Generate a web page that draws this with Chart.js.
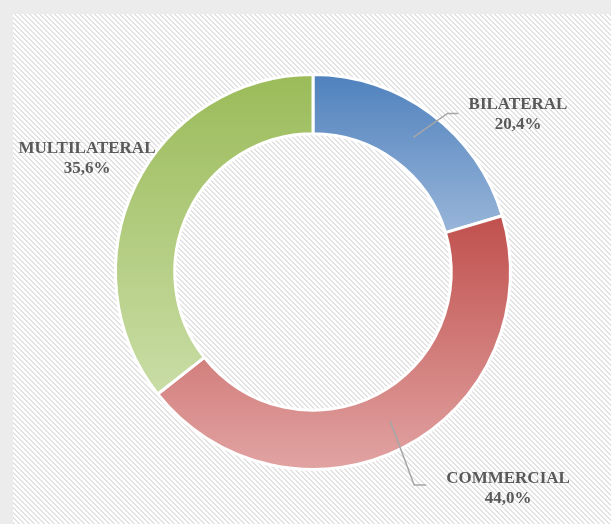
<!DOCTYPE html>
<html>
<head>
<meta charset="utf-8">
<script src="https://cdn.jsdelivr.net/npm/chart.js@4"></script>
<style>
  html, body { margin: 0; padding: 0; background: #ececec; }
  #wrap { width: 611px; height: 524px; position: relative; }
</style>
</head>
<body>
<div id="wrap"><canvas id="grafica" width="611" height="524"></canvas></div>
<script>
// datos de la grafica
var categorias = ["BILATERAL", "COMMERCIAL", "MULTILATERAL"];
var valores = [20.4, 44.0, 35.6];
var etiquetas = ["20,4%", "44,0%", "35,6%"];
var coloresArriba = ["#4f81bd", "#c0504d", "#9bbb59"];
var coloresAbajo = ["#98b5d9", "#e1a4a3", "#c9dda6"];

var corte = 0.70;

// fondo gris con rayado diagonal
function crearRayado(ctx) {
    var tile = document.createElement("canvas");
    tile.width = 5;
    tile.height = 5;
    var t = tile.getContext("2d");
    t.fillStyle = "#ffffff";
    t.fillRect(0, 0, 5, 5);
    t.fillStyle = "#e2e2e2";
    for (var y = 0; y < 5; y++) {
        t.fillRect(y % 5, y, 1, 1);
        t.fillRect((y + 1) % 5, y, 1, 1);
    }
    return ctx.createPattern(tile, "repeat");
}

var fondoPlugin = {
    id: "fondo",
    beforeDraw: function(chart) {
        var ctx = chart.ctx;
        ctx.save();
        ctx.fillStyle = "#ececec";
        ctx.fillRect(0, 0, chart.width, chart.height);
        ctx.fillStyle = crearRayado(ctx);
        ctx.fillRect(13, 14, chart.width - 13, chart.height - 14);
        ctx.restore();
    }
};

// gradiente vertical para cada porcion
function gradientePorcion(context) {
    var chart = context.chart;
    var area = chart.chartArea;
    if (!area) return coloresArriba[context.dataIndex];
    var cx = (area.left + area.right) / 2;
    var cy = (area.top + area.bottom) / 2;
    var R = Math.min(area.right - area.left, area.bottom - area.top) / 2;
    var r = R * corte;
    var total = valores.reduce(function(a, b) { return a + b; }, 0);
    var acum = 0;
    for (var i = 0; i < context.dataIndex; i++) acum += valores[i];
    var a0 = acum / total * Math.PI * 2;
    var a1 = (acum + valores[context.dataIndex]) / total * Math.PI * 2;
    var ymin = Infinity, ymax = -Infinity;
    for (var k = 0; k <= 60; k++) {
        var a = a0 + (a1 - a0) * k / 60;
        [R, r].forEach(function(rad) {
            var y = cy - rad * Math.cos(a);
            if (y < ymin) ymin = y;
            if (y > ymax) ymax = y;
        });
    }
    var g = chart.ctx.createLinearGradient(0, ymin, 0, ymax);
    g.addColorStop(0, coloresArriba[context.dataIndex]);
    g.addColorStop(1, coloresAbajo[context.dataIndex]);
    return g;
}

// etiquetas con lineas guia
var etiquetasPlugin = {
    id: "etiquetas",
    afterDraw: function(chart) {
        var ctx = chart.ctx;
        var meta = chart.getDatasetMeta(0);
        var textos = [
            { x: 518, y: 109, guia: [34, -24, 11] },
            { x: 508, y: 483, guia: [24, 64, 12] },
            { x: 87, y: 153, guia: null }
        ];
        ctx.save();
        meta.data.forEach(function(arc, i) {
            var t = textos[i];
            if (t.guia) {
                var mid = (arc.startAngle + arc.endAngle) / 2;
                var rm = (arc.innerRadius + arc.outerRadius) / 2;
                var x0 = arc.x + Math.cos(mid) * rm;
                var y0 = arc.y + Math.sin(mid) * rm;
                var x1 = x0 + t.guia[0];
                var y1 = y0 + t.guia[1];
                ctx.strokeStyle = "#a6a6a6";
                ctx.lineWidth = 1.5;
                ctx.beginPath();
                ctx.moveTo(x0, y0);
                ctx.lineTo(x1, y1);
                ctx.lineTo(x1 + t.guia[2], y1);
                ctx.stroke();
            }
            ctx.fillStyle = "#595959";
            ctx.textAlign = "center";
            ctx.textBaseline = "alphabetic";
            ctx.font = "bold 17px 'Liberation Serif', 'Times New Roman', serif";
            ctx.fillText(categorias[i], t.x, t.y);
            ctx.fillText(etiquetas[i], t.x, t.y + 20);
        });
        ctx.restore();
    }
};

var grafica = new Chart(document.getElementById("grafica"), {
    type: "doughnut",
    data: {
        labels: categorias,
        datasets: [{
            data: valores,
            backgroundColor: gradientePorcion,
            borderColor: "#ffffff",
            borderWidth: 3,
            cutout: (corte * 100) + "%"
        }]
    },
    options: {
        responsive: false,
        animation: false,
        layout: { padding: { left: 114, right: 99, top: 73, bottom: 53 } },
        plugins: {
            legend: { display: false },
            tooltip: { enabled: false }
        }
    },
    plugins: [fondoPlugin, etiquetasPlugin]
});
</script>
</body>
</html>
